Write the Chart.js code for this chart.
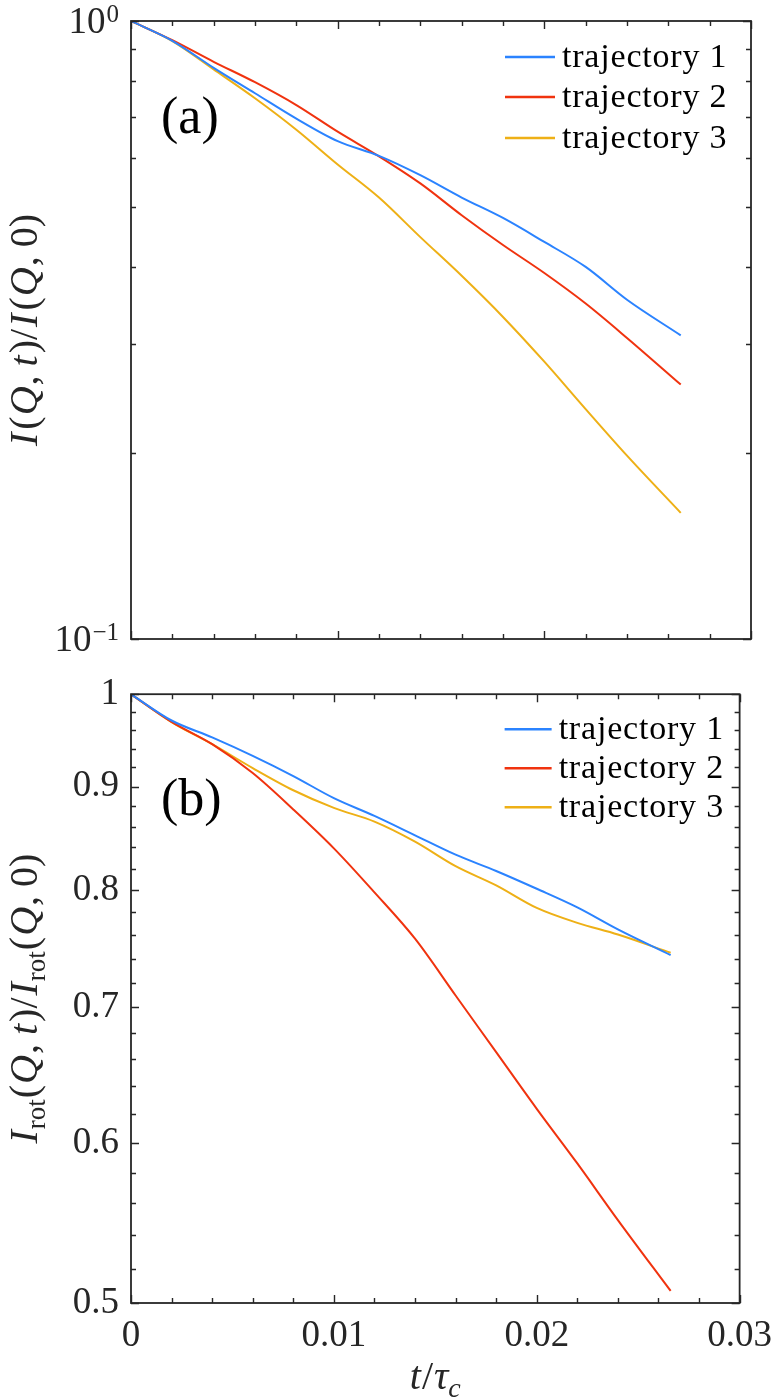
<!DOCTYPE html>
<html>
<head>
<meta charset="utf-8">
<script src="https://cdn.jsdelivr.net/npm/chart.js@4.4.1/dist/chart.umd.min.js"></script>
<style>
  body { margin: 0; background: #fff; }
  #wrap { position: relative; width: 783px; height: 1400px; }
  canvas { position: absolute; left: 0; }
</style>
</head>
<body>
<div id="wrap">
  <canvas id="chartA" width="783" height="660" style="top:0"></canvas>
  <canvas id="chartB" width="783" height="740" style="top:660px"></canvas>
</div>
<script>
// ---------------- data
const timeSteps = [0, 0.002, 0.004, 0.006, 0.008, 0.010, 0.012, 0.014, 0.016, 0.018, 0.020, 0.022, 0.024, 0.0266];
const trajNames = ["trajectory 1", "trajectory 2", "trajectory 3"];
const trajColors = ["#2b83ff", "#f0330f", "#eeb016"];

// panel (a): I(Q,t)/I(Q,0)
const fullTraj1 = [1, 0.929, 0.840, 0.764, 0.695, 0.639, 0.605, 0.563, 0.518, 0.480, 0.439, 0.400, 0.354, 0.310];
const fullTraj2 = [1, 0.931, 0.859, 0.796, 0.731, 0.662, 0.604, 0.546, 0.485, 0.434, 0.391, 0.349, 0.307, 0.258];
const fullTraj3 = [1, 0.928, 0.835, 0.750, 0.667, 0.586, 0.518, 0.447, 0.387, 0.332, 0.281, 0.2355, 0.198, 0.160];

// panel (b): I_rot(Q,t)/I_rot(Q,0)
const rotTraj1 = [1, 0.9705, 0.9520, 0.9322, 0.9110, 0.8884, 0.8706, 0.8516, 0.8330, 0.8177, 0.8013, 0.7845, 0.7651, 0.7430];
const rotTraj2 = [1, 0.969, 0.9447, 0.9141, 0.877, 0.839, 0.798, 0.757, 0.7096, 0.6653, 0.6237, 0.5861, 0.5495, 0.5069];
const rotTraj3 = [1, 0.9687, 0.9447, 0.9193, 0.8964, 0.8786, 0.8650, 0.8455, 0.8222, 0.8044, 0.7840, 0.7708, 0.7606, 0.7450];

// ticks
const timeTicks = [0, 0.01, 0.02, 0.03];
const timeMinorTicks = [0.002, 0.004, 0.006, 0.008, 0.012, 0.014, 0.016, 0.018, 0.022, 0.024, 0.026, 0.028];
const fullTicks = [0.1, 1];
const fullTickExp = ["\u22121", "0"];
const fullMinorTicks = [0.2, 0.3, 0.4, 0.5, 0.6, 0.7, 0.8, 0.9];
const rotTicks = [0.5, 0.6, 0.7, 0.8, 0.9, 1];
const rotMinorTicks = [0.52, 0.54, 0.56, 0.58, 0.62, 0.64, 0.66, 0.68, 0.72, 0.74, 0.76, 0.78,
  0.82, 0.84, 0.86, 0.88, 0.92, 0.94, 0.96, 0.98];

const axisColor = "#262626";
const serif = '"Liberation Serif", "Times New Roman", serif';

function makeSets(series) {
  return series.map((vals, i) => ({
    label: trajNames[i],
    data: vals.map((v, k) => ({ x: timeSteps[k], y: v })),
    borderColor: trajColors[i],
    borderWidth: 2,
    pointRadius: 0,
    fill: false,
    cubicInterpolationMode: "monotone",
  }));
}

// text made of pieces (italic letters, roman, subscripts)
function drawRich(ctx, parts, x, y, rot) {
  ctx.save();
  ctx.translate(x, y);
  ctx.rotate(rot);
  let total = 0;
  parts.forEach((p) => {
    ctx.font = p.font;
    p.w = ctx.measureText(p.text).width;
    total += p.w + (p.gap || 0);
  });
  let cx = -total / 2;
  ctx.textAlign = "left";
  ctx.textBaseline = "alphabetic";
  ctx.fillStyle = axisColor;
  parts.forEach((p) => {
    ctx.font = p.font;
    ctx.fillText(p.text, cx, p.dy || 0);
    cx += p.w + (p.gap || 0);
  });
  ctx.restore();
}

const it = "italic 40px " + serif;
const rm = "40px " + serif;
const sub = "27px " + serif;

// inward ticks + box, MATLAB style
const frameTicks = {
  id: "frameTicks",
  afterDatasetsDraw(chart, args, o) {
    const { ctx, chartArea: a } = chart;
    const x = chart.scales.x, y = chart.scales.y;
    ctx.save();
    ctx.strokeStyle = axisColor;
    ctx.lineWidth = 1.4;
    ctx.beginPath();
    function xt(vals, len) {
      vals.forEach((v) => {
        const px = Math.round(x.getPixelForValue(v)) + 0.5;
        ctx.moveTo(px, a.bottom); ctx.lineTo(px, a.bottom - len);
        ctx.moveTo(px, a.top); ctx.lineTo(px, a.top + len);
      });
    }
    function yt(vals, len) {
      vals.forEach((v) => {
        const py = Math.round(y.getPixelForValue(v)) + 0.5;
        ctx.moveTo(a.left, py); ctx.lineTo(a.left + len, py);
        ctx.moveTo(a.right, py); ctx.lineTo(a.right - len, py);
      });
    }
    xt(o.xMajor, 8); xt(o.xMinor, 5);
    yt(o.yMajor, 8); yt(o.yMinor, 5);
    ctx.stroke();
    ctx.lineWidth = 1.8;
    ctx.strokeRect(a.left, a.top, a.right - a.left, a.bottom - a.top);
    ctx.restore();
  },
};

// legend in the corner, panel letter, axis titles
const decor = {
  id: "decor",
  afterDraw(chart, args, o) {
    const { ctx, chartArea: a } = chart;
    ctx.save();
    chart.data.datasets.forEach((ds, i) => {
      const ry = a.top + o.rowY[i];
      ctx.strokeStyle = ds.borderColor;
      ctx.lineWidth = 2.5;
      ctx.beginPath();
      ctx.moveTo(a.right - o.lineFrom, ry);
      ctx.lineTo(a.right - o.lineTo, ry);
      ctx.stroke();
      ctx.fillStyle = "#000";
      ctx.font = "34px " + serif;
      ctx.letterSpacing = "0.8px";
      ctx.textAlign = "left";
      ctx.textBaseline = "middle";
      ctx.fillText(ds.label, a.right - o.textAt, ry + 1);
    });
    ctx.letterSpacing = "0px";
    ctx.fillStyle = "#000";
    ctx.font = "52px " + serif;
    ctx.textBaseline = "alphabetic";
    ctx.fillText(o.panel, a.left + 30, a.top + o.panelY);

    const yc = (a.top + a.bottom) / 2;
    drawRich(ctx, o.yTitle, 37, yc, -Math.PI / 2);

    if (o.xTitle) {
      drawRich(ctx, o.xTitle, (a.left + a.right) / 2, a.bottom + 86, 0);
    }
    if (o.expTicks) {
      const ys = chart.scales.y;
      o.expTicks.forEach((v, i) => {
        const py = ys.getPixelForValue(v);
        ctx.fillStyle = axisColor;
        ctx.textAlign = "right";
        ctx.textBaseline = "alphabetic";
        ctx.font = "25px " + serif;
        const ew = ctx.measureText(o.expText[i]).width;
        ctx.fillText(o.expText[i], a.left - 12, py + 1);
        ctx.font = "37px " + serif;
        ctx.fillText("10", a.left - 13 - ew, py + 12);
      });
    }
    ctx.restore();
  },
};

const titleA = [
  { text: "I", font: it, gap: 3 }, { text: "(", font: rm, gap: 1 }, { text: "Q", font: it, gap: 1 },
  { text: ",", font: rm, gap: 9 }, { text: "t", font: it, gap: 2 }, { text: ")/", font: rm, gap: 2 },
  { text: "I", font: it, gap: 3 }, { text: "(", font: rm, gap: 1 }, { text: "Q", font: it, gap: 1 },
  { text: ",", font: rm, gap: 9 }, { text: "0)", font: rm },
];
const titleB = [
  { text: "I", font: it, gap: 1 }, { text: "rot", font: sub, dy: 8, gap: 1 }, { text: "(", font: rm, gap: 1 },
  { text: "Q", font: it, gap: 1 }, { text: ",", font: rm, gap: 9 }, { text: "t", font: it, gap: 2 },
  { text: ")/", font: rm, gap: 2 }, { text: "I", font: it, gap: 1 }, { text: "rot", font: sub, dy: 8, gap: 1 },
  { text: "(", font: rm, gap: 1 }, { text: "Q", font: it, gap: 1 }, { text: ",", font: rm, gap: 9 },
  { text: "0)", font: rm },
];
const titleX = [
  { text: "t", font: it, gap: 1 }, { text: "/", font: rm, gap: 1 }, { text: "\u03c4", font: it, gap: 0 },
  { text: "c", font: "italic 28px " + serif, dy: 8 },
];

// ---------------- chart (a)
new Chart(document.getElementById("chartA"), {
  type: "line",
  data: { datasets: makeSets([fullTraj1, fullTraj2, fullTraj3]) },
  plugins: [frameTicks, decor],
  options: {
    responsive: false,
    animation: false,
    layout: { padding: { top: 21, right: 32, left: 0, bottom: 0 } },
    plugins: {
      legend: { display: false },
      tooltip: { enabled: false },
      frameTicks: { xMajor: timeTicks, xMinor: timeMinorTicks, yMajor: fullTicks, yMinor: fullMinorTicks },
      decor: {
        rowY: [36, 76, 117], lineFrom: 246, lineTo: 196, textAt: 189,
        panel: "(a)", panelY: 112, yTitle: titleA,
        expTicks: fullTicks, expText: fullTickExp,
      },
    },
    scales: {
      x: {
        type: "linear", min: 0, max: 0.03,
        grid: { display: false, drawTicks: false },
        border: { display: false },
        ticks: { display: false },
        afterFit: (s) => { s.height = 21; },
      },
      y: {
        type: "logarithmic", min: 0.1, max: 1,
        grid: { display: false, drawTicks: false },
        border: { display: false },
        ticks: { display: false },
        afterFit: (s) => { s.width = 131; },
      },
    },
  },
});

// ---------------- chart (b)
new Chart(document.getElementById("chartB"), {
  type: "line",
  data: { datasets: makeSets([rotTraj1, rotTraj2, rotTraj3]) },
  plugins: [frameTicks, decor],
  options: {
    responsive: false,
    animation: false,
    layout: { padding: { top: 21, right: 32, left: 0, bottom: 0 } },
    plugins: {
      legend: { display: false },
      tooltip: { enabled: false },
      frameTicks: { xMajor: timeTicks, xMinor: timeMinorTicks, yMajor: rotTicks, yMinor: rotMinorTicks },
      decor: {
        rowY: [35, 74, 113], lineFrom: 235, lineTo: 188, textAt: 181,
        panel: "(b)", panelY: 121, yTitle: titleB, xTitle: titleX,
      },
    },
    scales: {
      x: {
        type: "linear", min: 0, max: 0.03,
        grid: { display: false, drawTicks: false },
        border: { display: false },
        afterBuildTicks: (s) => { s.ticks = timeTicks.map((v) => ({ value: v })); },
        ticks: {
          color: axisColor, padding: 11, maxRotation: 0,
          font: { family: serif, size: 37 },
          callback: (v) => String(v),
        },
        afterFit: (s) => { s.height = 97; },
      },
      y: {
        type: "logarithmic", min: 0.5, max: 1,
        grid: { display: false, drawTicks: false },
        border: { display: false },
        afterBuildTicks: (s) => { s.ticks = rotTicks.map((v) => ({ value: v })); },
        ticks: {
          color: axisColor, padding: 12,
          font: { family: serif, size: 37 },
          callback: (v) => String(v),
        },
        afterFit: (s) => { s.width = 131; },
      },
    },
  },
});
</script>
</body>
</html>
